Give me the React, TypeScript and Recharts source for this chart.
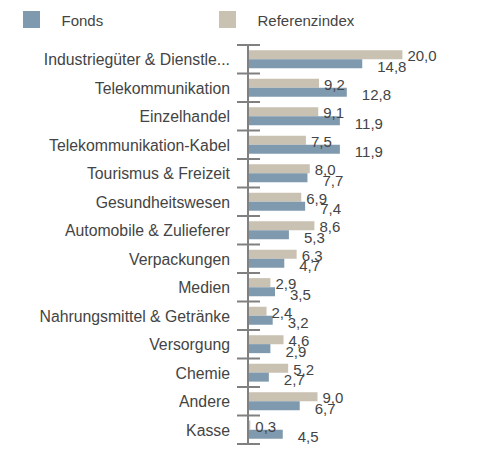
import { BarChart, Bar, XAxis, YAxis, LabelList } from 'recharts';

const categories = [
  'Industriegüter & Dienstle...',
  'Telekommunikation',
  'Einzelhandel',
  'Telekommunikation-Kabel',
  'Tourismus & Freizeit',
  'Gesundheitswesen',
  'Automobile & Zulieferer',
  'Verpackungen',
  'Medien',
  'Nahrungsmittel & Getränke',
  'Versorgung',
  'Chemie',
  'Andere',
  'Kasse',
];
const fonds = [14.8, 12.8, 11.9, 11.9, 7.7, 7.4, 5.3, 4.7, 3.5, 3.2, 2.9, 2.7, 6.7, 4.5];
const referenz = [20.0, 9.2, 9.1, 7.5, 8.0, 6.9, 8.6, 6.3, 2.9, 2.4, 4.6, 5.2, 9.0, 0.3];

const FONT = '"Liberation Sans", Arial, sans-serif';
const TEXT = '#444444';
const AXIS = '#808080';
const FONDS_COLOR = '#7f9aae';
const REF_COLOR = '#c9c1b1';

const W = 477;
const H = 450;
const margin = { top: 45, right: 36, bottom: 6, left: 0 };
const band = (H - margin.top - margin.bottom) / categories.length;

const data = categories.map((name, i) => ({ name, fonds: fonds[i], referenz: referenz[i] }));

const fmt = (v: number) => v.toFixed(1).replace('.', ',');

const CategoryTick = (props: any) => {
  const { x, y, payload, index } = props;
  const last = index === categories.length - 1;
  return (
    <g>
      <line x1={x - 11} x2={x + 12} y1={y - band / 2} y2={y - band / 2} stroke={AXIS} strokeWidth={2} />
      {last && (
        <line x1={x - 11} x2={x + 12} y1={y + band / 2} y2={y + band / 2} stroke={AXIS} strokeWidth={2} />
      )}
      <text x={x - 18} y={y + 6} textAnchor="end" fill={TEXT} fontSize={15.8} fontFamily={FONT}>
        {payload.value}
      </text>
    </g>
  );
};

const valueLabel = (offset: number, shift: number) => (p: any) => (
  <text
    x={p.x + p.width + offset}
    y={p.y + p.height / 2 + shift + 5.3}
    fill={TEXT}
    fontSize={15}
    fontFamily={FONT}
  >
    {fmt(Number(p.value))}
  </text>
);

const legendItems = [
  { name: 'Fonds', color: FONDS_COLOR, x: 23 },
  { name: 'Referenzindex', color: REF_COLOR, x: 219 },
];

export default function App() {
  return (
    <div style={{ position: 'absolute', left: 0, top: 0, width: W, height: H, background: '#fff' }}>
      {legendItems.map((it) => (
        <div key={it.name} style={{ position: 'absolute', left: it.x, top: 11 }}>
          <div style={{ position: 'absolute', left: 0, top: 0, width: 17, height: 17, background: it.color }} />
          <div
            style={{
              position: 'absolute',
              left: 38.5,
              top: 0,
              lineHeight: '20px',
              fontSize: 15,
              fontFamily: FONT,
              color: TEXT,
              whiteSpace: 'nowrap',
            }}
          >
            {it.name}
          </div>
        </div>
      ))}
      <BarChart
        width={W}
        height={H}
        data={data}
        layout="vertical"
        margin={margin}
        barCategoryGap="18%"
        barGap={0}
      >
        <XAxis type="number" domain={[0, 25]} hide />
        <YAxis
          type="category"
          dataKey="name"
          width={248}
          axisLine={{ stroke: AXIS, strokeWidth: 2 }}
          tickLine={false}
          tickSize={0}
          tickMargin={0}
          interval={0}
          tick={CategoryTick}
        />
        <Bar dataKey="referenz" fill={REF_COLOR} isAnimationActive={false}>
          <LabelList dataKey="referenz" content={valueLabel(5, 1.5)} />
        </Bar>
        <Bar dataKey="fonds" fill={FONDS_COLOR} isAnimationActive={false}>
          <LabelList dataKey="fonds" content={valueLabel(15, 3)} />
        </Bar>
      </BarChart>
    </div>
  );
}
